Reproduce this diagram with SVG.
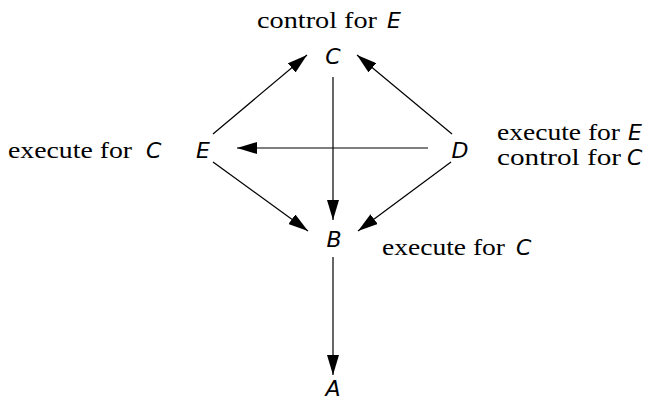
<svg xmlns="http://www.w3.org/2000/svg" width="652" height="400" viewBox="0 0 652 400">
<style>
.serif{font-family:"Liberation Serif","Times New Roman",serif;font-size:24px;fill:#000}
.math{font-family:"DejaVu Sans","Liberation Sans",sans-serif;font-style:italic;font-size:22px;fill:#000}
.edge{stroke:#000;stroke-width:1.2;fill:none;marker-end:url(#ah)}
</style>
<defs>
<marker id="ah" viewBox="0 0 20 12" refX="20" refY="6" markerWidth="20" markerHeight="12" markerUnits="userSpaceOnUse" orient="auto">
<path d="M0,0 L20,6 L0,12 Z" fill="#000"/>
</marker>
</defs>
<rect width="652" height="400" fill="#fff"/>
<g id="connectors">
<line class="edge" x1="333" y1="77" x2="333" y2="220"/>
<line class="edge" x1="333" y1="257" x2="333" y2="375"/>
<line class="edge" x1="213" y1="134" x2="307" y2="55"/>
<line class="edge" x1="452" y1="134" x2="357" y2="55"/>
<line class="edge" x1="428" y1="148" x2="237" y2="148"/>
<line class="edge" x1="213" y1="162" x2="308" y2="231"/>
<line class="edge" x1="451" y1="162" x2="358" y2="231"/>
</g>
<g id="node-C">
<text class="math" x="333" y="64" text-anchor="middle">C</text>
<text class="serif" x="257" y="28" textLength="120" lengthAdjust="spacingAndGlyphs">control for</text>
<text class="math" x="387" y="28">E</text>
</g>
<g id="node-E">
<text class="math" x="203" y="158" text-anchor="middle">E</text>
<text class="serif" x="8" y="158" textLength="124" lengthAdjust="spacingAndGlyphs">execute for</text>
<text class="math" x="146" y="158">C</text>
</g>
<g id="node-D">
<text class="math" x="460" y="158" text-anchor="middle">D</text>
<text class="serif" x="497" y="140" textLength="123" lengthAdjust="spacingAndGlyphs">execute for</text>
<text class="math" x="628" y="140">E</text>
<text class="serif" x="497" y="165" textLength="124" lengthAdjust="spacingAndGlyphs">control for</text>
<text class="math" x="627" y="165">C</text>
</g>
<g id="node-B">
<text class="math" x="334" y="247" text-anchor="middle">B</text>
<text class="serif" x="382" y="255" textLength="123" lengthAdjust="spacingAndGlyphs">execute for</text>
<text class="math" x="516" y="255">C</text>
</g>
<g id="node-A">
<text class="math" x="333" y="396" text-anchor="middle">A</text>
</g>
</svg>
